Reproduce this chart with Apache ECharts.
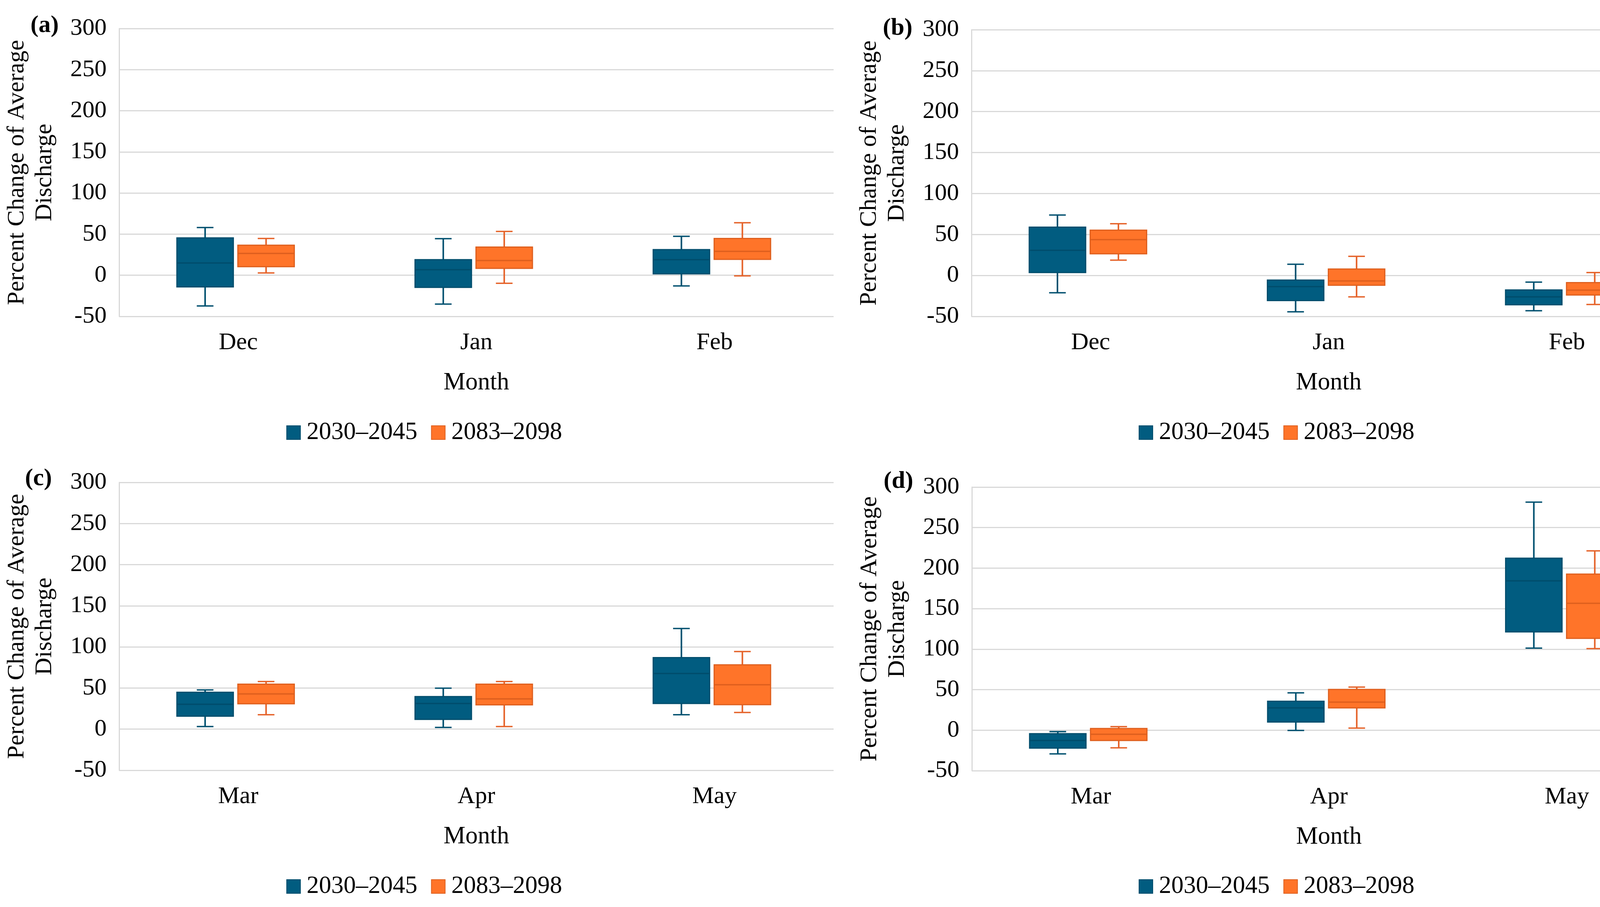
<!DOCTYPE html>
<html>
<head>
<meta charset="utf-8">
<script src="https://cdn.jsdelivr.net/npm/echarts@6/dist/echarts.min.js"></script>
<style>
  html, body { margin: 0; padding: 0; background: #fff; }
  #chart { width: 4347px; height: 2322px; }
</style>
</head>
<body>
<div id="chart"></div>
<script>
// ---- Data ----
const monthsWinter = ['Dec', 'Jan', 'Feb'];
const monthsSpring = ['Mar', 'Apr', 'May'];
const seriesNames = ['2030–2045', '2083–2098'];
const yMin = -50, yMax = 300, yStep = 50;
const panelLabels = ['(a)', '(b)', '(c)', '(d)'];
const yAxisTitle = 'Percent Change of Average\nDischarge';
const xAxisTitle = 'Month';

// each entry: [min, Q1, median, Q3, max]
const a_2030 = [[-37.3, -14.2, 15.0, 45.4, 58.0], [-35.0, -14.7, 6.7, 19.0, 44.5], [-13.0, 1.8, 19.0, 31.2, 47.3]];
const a_2083 = [[2.8, 10.4, 26.6, 36.5, 44.7], [-9.8, 8.4, 17.9, 34.3, 53.3], [-0.7, 19.3, 29.1, 44.8, 63.8]];
const b_2030 = [[-21.1, 3.5, 30.7, 58.9, 73.7], [-44.4, -30.7, -13.7, -5.6, 13.7], [-43.1, -35.8, -26.2, -17.7, -8.2]];
const b_2083 = [[18.7, 26.4, 43.7, 55.3, 63.1], [-26.1, -12.0, -6.7, 7.8, 23.3], [-35.5, -23.9, -17.9, -8.8, 3.5]];
const c_2030 = [[3.2, 15.8, 30.2, 44.9, 47.7], [2.1, 11.9, 31.2, 39.6, 49.8], [17.5, 31.2, 67.7, 87.0, 122.4]];
const c_2083 = [[17.5, 30.9, 42.8, 54.7, 57.9], [3.2, 29.5, 36.8, 54.7, 57.9], [20.3, 29.8, 54.0, 78.2, 94.4]];
const d_2030 = [[-29.3, -22.1, -12.8, -4.3, -1.8], [-0.4, 10.0, 27.5, 35.7, 46.0], [101.3, 121.3, 184.3, 212.2, 281.4]];
const d_2083 = [[-21.8, -12.8, -5.0, 2.1, 4.3], [2.5, 27.5, 34.6, 50.3, 53.2], [100.7, 113.3, 156.6, 192.6, 221.3]];

// ---- Styling / layout ----
const FONT = "'Liberation Serif', 'Times New Roman', serif";
const GRID_COLOR = '#D9D9D9';
const styles = [
  { fill: '#015C80', stroke: '#004D6C', whisker: '#00506F', offset: -0.139 },
  { fill: '#FF7429', stroke: '#DE5F1E', whisker: '#E5632A', offset: 0.117 }
];
const BOX_W = 0.237, CAP_W = 0.07;

const panels = [
  { months: monthsWinter, data: [a_2030, a_2083], grid: { left: 305, top: 73, width: 1829, height: 737 }, label: [78, 35], legend: [733, 1076] },
  { months: monthsWinter, data: [b_2030, b_2083], grid: { left: 2487, top: 76, width: 1829, height: 734 }, label: [2260, 42], legend: [2915, 1076] },
  { months: monthsSpring, data: [c_2030, c_2083], grid: { left: 305, top: 1235, width: 1829, height: 737 }, label: [64, 1195], legend: [733, 2238] },
  { months: monthsSpring, data: [d_2030, d_2083], grid: { left: 2488, top: 1247, width: 1828, height: 726 }, label: [2262, 1202], legend: [2915, 2238] }
];

function makeRender(st) {
  return function (params, api) {
    const i = api.value(0);
    const band = api.size([1, 0])[0];
    const cx = api.coord([i, 0])[0] + st.offset * band;
    const w = BOX_W * band;
    const cap = CAP_W * band;
    const y = k => api.coord([i, api.value(k)])[1];
    const yLo = y(1), yQ1 = y(2), yMed = y(3), yQ3 = y(4), yHi = y(5);
    const lineStyle = { stroke: st.whisker, lineWidth: 4 };
    return {
      type: 'group',
      children: [
        { type: 'line', shape: { x1: cx, y1: yQ3, x2: cx, y2: yHi }, style: lineStyle },
        { type: 'line', shape: { x1: cx, y1: yQ1, x2: cx, y2: yLo }, style: lineStyle },
        { type: 'line', shape: { x1: cx - cap / 2, y1: yHi, x2: cx + cap / 2, y2: yHi }, style: { stroke: st.whisker, lineWidth: 3.5 } },
        { type: 'line', shape: { x1: cx - cap / 2, y1: yLo, x2: cx + cap / 2, y2: yLo }, style: { stroke: st.whisker, lineWidth: 3.5 } },
        { type: 'rect', shape: { x: cx - w / 2, y: yQ3, width: w, height: yQ1 - yQ3 }, style: { fill: st.fill, stroke: st.stroke, lineWidth: 3 } },
        { type: 'line', shape: { x1: cx - w / 2, y1: yMed, x2: cx + w / 2, y2: yMed }, style: { stroke: st.stroke, lineWidth: 3.5 } }
      ]
    };
  };
}

const option = {
  animation: false,
  backgroundColor: '#ffffff',
  title: [], legend: [], grid: [], xAxis: [], yAxis: [], series: []
};

panels.forEach((p, pi) => {
  option.grid.push(Object.assign({ containLabel: false }, p.grid));
  option.title.push({
    text: panelLabels[pi], left: p.label[0], top: p.label[1], padding: 0,
    textStyle: { fontFamily: FONT, fontWeight: 'bold', fontSize: 62, color: '#000' }
  });
  option.legend.push({
    left: p.legend[0], top: p.legend[1], orient: 'horizontal', padding: 0,
    itemWidth: 35, itemHeight: 35, itemGap: 35, icon: 'rect',
    data: seriesNames,
    textStyle: { fontFamily: FONT, fontSize: 63, color: '#000', padding: [0, 0, 0, 11] }
  });
  option.xAxis.push({
    type: 'category', gridIndex: pi, data: p.months,
    axisLine: { show: false }, axisTick: { show: false },
    axisLabel: { fontFamily: FONT, fontSize: 62, color: '#000', margin: 37 },
    name: xAxisTitle, nameLocation: 'middle', nameGap: 139,
    nameTextStyle: { fontFamily: FONT, fontSize: 63, color: '#000' }
  });
  option.yAxis.push({
    type: 'value', gridIndex: pi, min: yMin, max: yMax, interval: yStep,
    axisLine: { show: true, lineStyle: { color: GRID_COLOR, width: 3 } },
    axisTick: { show: false },
    splitLine: { show: true, lineStyle: { color: GRID_COLOR, width: 3 } },
    axisLabel: { fontFamily: FONT, fontSize: 62, color: '#000', margin: 32 },
    name: yAxisTitle, nameLocation: 'middle', nameGap: 155,
    nameTextStyle: { fontFamily: FONT, fontSize: 62, color: '#000', lineHeight: 71 }
  });
  p.data.forEach((arr, si) => {
    const st = styles[si];
    option.series.push({
      name: seriesNames[si], type: 'custom',
      xAxisIndex: pi, yAxisIndex: pi,
      itemStyle: { color: st.fill, borderColor: st.stroke, borderWidth: 3 },
      encode: { x: 0, y: [1, 2, 3, 4, 5] },
      data: arr.map((v, i) => [i].concat(v)),
      renderItem: makeRender(st)
    });
  });
});

const chart = echarts.init(document.getElementById('chart'), null, { renderer: 'canvas' });
chart.setOption(option);
</script>
</body>
</html>
